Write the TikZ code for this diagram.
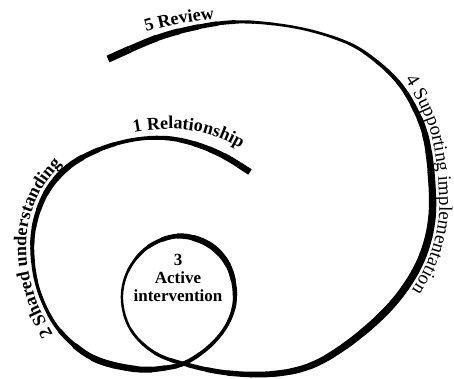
\documentclass[tikz,border=0pt]{standalone}
\usepackage{fontspec}
\setmainfont{Liberation Serif}
\usetikzlibrary{calc,decorations.text}
% one spline segment of the spiral, split in two halves whose widths taper from #6 to #7
\newcommand\segm[7][]{%
  \coordinate (ca) at ($(#3)+0.1667*(#4)-0.1667*(#2)$);
  \coordinate (cb) at ($(#4)+0.1667*(#3)-0.1667*(#5)$);
  \coordinate (cm) at ($0.125*(#3)+0.375*(ca)+0.375*(cb)+0.125*(#4)$);
  \pgfmathsetmacro\wa{0.75*#6+0.25*#7}%
  \pgfmathsetmacro\wb{0.25*#6+0.75*#7}%
  \draw[line width=\wa pt,#1] (#3) .. controls ($0.5*(#3)+0.5*(ca)$) and ($0.25*(#3)+0.5*(ca)+0.25*(cb)$) .. (cm);
  \draw[line width=\wb pt,#1] (cm) .. controls ($0.25*(ca)+0.5*(cb)+0.25*(#4)$) and ($0.5*(cb)+0.5*(#4)$) .. (#4);
}
\tikzset{
  lbl/.style={decorate, decoration={text along path}},
  boldlbl/.style={font=\bfseries\fontsize{17}{18}\selectfont, align=center, inner sep=0pt}
}
\begin{document}
\begin{tikzpicture}[x=1pt,y=1pt,line cap=round,line join=round]
\useasboundingbox (0,0) rectangle (454,379);
\coordinate (p0) at (250,207);
\coordinate (p1) at (224,223);
\coordinate (p2) at (195,235);
\coordinate (p3) at (165,241);
\coordinate (p4) at (132,239);
\coordinate (p5) at (98,229);
\coordinate (p6) at (68,212);
\coordinate (p7) at (46,186);
\coordinate (p8) at (34,152);
\coordinate (p9) at (33,117);
\coordinate (p10) at (41,82);
\coordinate (p11) at (60,48);
\coordinate (p12) at (93,21);
\coordinate (p13) at (135,10);
\coordinate (p14) at (165,11);
\coordinate (p15) at (187,17);
\coordinate (p16) at (212,35);
\coordinate (p17) at (229,58);
\coordinate (p18) at (235,84);
\coordinate (p19) at (228,114);
\coordinate (p20) at (208,135);
\coordinate (p21) at (178,143);
\coordinate (p22) at (148,132);
\coordinate (p23) at (128,108);
\coordinate (p24) at (122,79);
\coordinate (p25) at (131,49);
\coordinate (p26) at (155,26);
\coordinate (p27) at (188,14);
\coordinate (p28) at (228,6);
\coordinate (p29) at (272,5);
\coordinate (p30) at (310,13);
\coordinate (p31) at (345,33);
\coordinate (p32) at (380,62);
\coordinate (p33) at (405,91);
\coordinate (p34) at (423,124);
\coordinate (p35) at (432,162);
\coordinate (p36) at (431,207);
\coordinate (p37) at (425,245);
\coordinate (p38) at (413,274);
\coordinate (p39) at (398,297);
\coordinate (p40) at (376,318);
\coordinate (p41) at (350,335);
\coordinate (p42) at (312,348);
\coordinate (p43) at (273,355);
\coordinate (p44) at (235,357);
\coordinate (p45) at (198,352);
\coordinate (p46) at (157,341);
\coordinate (p47) at (108,320);
\segm[line cap=butt]{p0}{p0}{p1}{p2}{6.5}{6}
\segm{p0}{p1}{p2}{p3}{6}{5}
\segm{p1}{p2}{p3}{p4}{5}{4.2}
\segm{p2}{p3}{p4}{p5}{4.2}{3.5}
\segm{p3}{p4}{p5}{p6}{3.5}{4.6}
\segm{p4}{p5}{p6}{p7}{4.6}{6.2}
\segm{p5}{p6}{p7}{p8}{6.2}{5.5}
\segm{p6}{p7}{p8}{p9}{5.5}{4.5}
\segm{p7}{p8}{p9}{p10}{4.5}{3.8}
\segm{p8}{p9}{p10}{p11}{3.8}{3.2}
\segm{p9}{p10}{p11}{p12}{3.2}{3.8}
\segm{p10}{p11}{p12}{p13}{3.8}{6.6}
\segm{p11}{p12}{p13}{p14}{6.6}{6.4}
\segm{p12}{p13}{p14}{p15}{6.4}{5}
\segm{p13}{p14}{p15}{p16}{5}{4.2}
\segm{p14}{p15}{p16}{p17}{4.2}{3.6}
\segm{p15}{p16}{p17}{p18}{3.6}{3.5}
\segm{p16}{p17}{p18}{p19}{3.5}{4.2}
\segm{p17}{p18}{p19}{p20}{4.2}{5.6}
\segm{p18}{p19}{p20}{p21}{5.6}{6.4}
\segm{p19}{p20}{p21}{p22}{6.4}{5}
\segm{p20}{p21}{p22}{p23}{5}{3.5}
\segm{p21}{p22}{p23}{p24}{3.5}{2.6}
\segm{p22}{p23}{p24}{p25}{2.6}{2.4}
\segm{p23}{p24}{p25}{p26}{2.4}{2.6}
\segm{p24}{p25}{p26}{p27}{2.6}{3.2}
\segm{p25}{p26}{p27}{p28}{3.2}{4.2}
\segm{p26}{p27}{p28}{p29}{4.2}{5.2}
\segm{p27}{p28}{p29}{p30}{5.2}{6}
\segm{p28}{p29}{p30}{p31}{6}{6.5}
\segm{p29}{p30}{p31}{p32}{6.5}{7}
\segm{p30}{p31}{p32}{p33}{7}{7.5}
\segm{p31}{p32}{p33}{p34}{7.5}{7.5}
\segm{p32}{p33}{p34}{p35}{7.5}{7.5}
\segm{p33}{p34}{p35}{p36}{7.5}{7.5}
\segm{p34}{p35}{p36}{p37}{7.5}{7}
\segm{p35}{p36}{p37}{p38}{7}{6}
\segm{p36}{p37}{p38}{p39}{6}{5}
\segm{p37}{p38}{p39}{p40}{5}{4.2}
\segm{p38}{p39}{p40}{p41}{4.2}{3.5}
\segm{p39}{p40}{p41}{p42}{3.5}{3}
\segm{p40}{p41}{p42}{p43}{3}{2.6}
\segm{p41}{p42}{p43}{p44}{2.6}{2.6}
\segm{p42}{p43}{p44}{p45}{2.6}{3.4}
\segm{p43}{p44}{p45}{p46}{3.4}{5}
\segm{p44}{p45}{p46}{p47}{5}{6.5}
\segm[line cap=butt]{p45}{p46}{p47}{p47}{6.5}{7.5}
\node[boldlbl] (t3) at (178,101) {3\\Active\\intervention};
\path[lbl, decoration={text={|\bfseries\fontsize{18}{18}\selectfont|5 Review}}]
  plot[smooth] coordinates {(146,347) (165,352) (185,356) (210,359) (240,361) (270,361)};
\path[lbl, decoration={text={|\bfseries\fontsize{18}{18}\selectfont|1 Relationship}}]
  plot[smooth] coordinates {(134,246.5) (150,249) (175,250) (200,247) (222,240) (240,231) (258,219) (270,207)};
\path[lbl, decoration={text={|\bfseries\fontsize{18}{18}\selectfont|2 Shared understanding}}]
  plot[smooth] coordinates {(53,45) (36,79) (27,117) (28,154) (41,189) (64,217) (96,235) (130,245)};
\path[lbl, decoration={text={|\fontsize{19}{19}\selectfont|4 Supporting implementation}}]
  plot[smooth] coordinates {(405,299) (418,277.3) (430.5,247.3) (437.5,208) (439,161.4) (429.6,122) (411,87.7) (385,57.6) (360,40)};
\end{tikzpicture}
\end{document}
